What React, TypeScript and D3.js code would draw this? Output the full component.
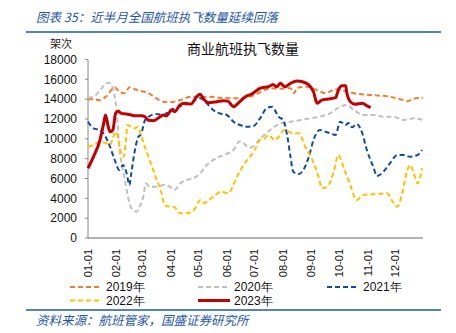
import React from "react";
import * as d3 from "d3";

const W = 456;
const H = 333;

const yTicks = [0, 2000, 4000, 6000, 8000, 10000, 12000, 14000, 16000, 18000];
const xTickLabels = ["01-01", "02-01", "03-01", "04-01", "05-01", "06-01", "07-01", "08-01", "09-01", "10-01", "11-01", "12-01"];
const seriesNames = ["2019年", "2020年", "2021年", "2022年", "2023年"];
const seriesColors = ["#ED7D31", "#BFBFBF", "#0F4C9E", "#FFC000", "#C00000"];

const s2019: [string, number][] = [
  ["01-01", 14000], ["01-07", 14000], ["01-14", 13900], ["01-21", 14300], ["01-30", 15200], ["02-04", 14750],
  ["02-10", 14600], ["02-15", 15200], ["02-21", 15000], ["02-26", 14850], ["03-07", 14650], ["03-16", 14100],
  ["03-24", 13750], ["03-31", 13700], ["04-11", 13900], ["04-18", 14150], ["04-25", 14250], ["05-03", 14200],
  ["05-13", 14250], ["05-24", 14150], ["06-04", 14100], ["06-15", 14100], ["06-26", 14250], ["07-07", 14700],
  ["07-18", 15100], ["07-29", 15050], ["08-09", 15100], ["08-13", 14600], ["08-16", 15150], ["08-27", 15250],
  ["09-07", 14900], ["09-16", 14600], ["09-27", 15000], ["10-04", 14900], ["10-17", 14600], ["11-07", 14400],
  ["11-25", 14250], ["12-10", 13900], ["12-14", 13800], ["12-21", 14050], ["12-31", 14150],
];

const s2020: [string, number][] = [
  ["01-01", 14150], ["01-07", 14250], ["01-14", 14900], ["01-21", 15600], ["01-25", 15650], ["01-28", 15100],
  ["02-01", 12900], ["02-04", 9200], ["02-08", 6850], ["02-12", 4840], ["02-15", 3500], ["02-19", 2820],
  ["02-23", 2650], ["02-26", 3160], ["03-02", 4160], ["03-05", 5500], ["03-09", 5170], ["03-16", 5170],
  ["03-24", 5340], ["03-31", 5170], ["04-05", 4840], ["04-11", 5500], ["04-18", 5850], ["04-25", 6020],
  ["05-03", 6520], ["05-10", 7360], ["05-17", 7870], ["05-28", 8370], ["06-08", 8870], ["06-15", 9750],
  ["06-26", 9100], ["07-07", 10000], ["07-18", 10890], ["07-29", 11560], ["08-09", 11730], ["08-20", 11900],
  ["08-31", 12070], ["09-10", 12230], ["09-21", 12570], ["10-02", 13240], ["10-09", 13400], ["10-17", 12900],
  ["10-27", 12400], ["11-07", 12400], ["11-18", 12230], ["11-29", 12230], ["12-10", 11900], ["12-21", 12070],
  ["12-31", 11900],
];

const s2021: [string, number][] = [
  ["01-01", 11730], ["01-07", 11060], ["01-14", 10890], ["01-19", 10390], ["01-25", 9200], ["01-30", 7870],
  ["02-04", 6860], ["02-08", 7360], ["02-12", 6520], ["02-15", 5340], ["02-17", 6520], ["02-21", 8870],
  ["02-24", 10050], ["02-28", 10560], ["03-04", 11900], ["03-09", 12300], ["03-16", 12500], ["03-24", 12400],
  ["03-31", 12900], ["04-07", 13080], ["04-14", 13410], ["04-22", 13580], ["04-29", 13990], ["05-03", 14090],
  ["05-10", 13580], ["05-17", 12900], ["05-24", 12570], ["06-01", 12400], ["06-08", 11730], ["06-15", 11390],
  ["06-22", 11220], ["06-30", 11300], ["07-07", 12070], ["07-14", 13080], ["07-20", 13240], ["07-23", 12900],
  ["07-27", 12230], ["08-01", 11900], ["08-05", 10560], ["08-09", 8200], ["08-12", 6690], ["08-18", 6450],
  ["08-23", 6860], ["08-29", 8200], ["09-03", 9880], ["09-10", 10890], ["09-16", 10720], ["09-21", 10560],
  ["09-27", 10390], ["10-02", 11730], ["10-08", 11390], ["10-11", 11600], ["10-15", 11160], ["10-20", 11500],
  ["10-26", 10560], ["10-31", 8870], ["11-07", 7190], ["11-11", 6250], ["11-18", 6690], ["11-25", 7530],
  ["12-03", 8370], ["12-10", 8370], ["12-17", 8200], ["12-25", 8370], ["12-30", 8870],
];

const s2022: [string, number][] = [
  ["01-01", 9200], ["01-07", 9380], ["01-14", 9710], ["01-21", 9550], ["01-25", 9380], ["01-28", 10050],
  ["01-31", 10720], ["02-03", 9880], ["02-06", 8540], ["02-09", 8200], ["02-11", 9710], ["02-13", 11390],
  ["02-17", 11220], ["02-21", 11060], ["02-24", 11220], ["02-28", 10220], ["03-05", 8870], ["03-11", 7360],
  ["03-16", 6020], ["03-22", 4510], ["03-25", 3330], ["03-31", 3160], ["04-05", 3100], ["04-11", 2500],
  ["04-18", 2500], ["04-25", 2700], ["05-03", 3800], ["05-06", 3500], ["05-17", 4160], ["05-26", 4670],
  ["06-02", 4510], ["06-12", 6200], ["06-19", 7360], ["06-26", 8200], ["07-01", 8870], ["07-07", 9880],
  ["07-12", 10050], ["07-16", 10390], ["07-23", 9880], ["08-03", 10890], ["08-11", 10560], ["08-18", 10560],
  ["08-25", 9200], ["09-01", 8040], ["09-09", 6020], ["09-12", 5010], ["09-18", 5170], ["09-25", 6690],
  ["09-30", 8370], ["10-06", 7030], ["10-13", 5340], ["10-20", 3830], ["10-27", 4340], ["11-07", 4410],
  ["11-22", 4510], ["11-27", 3830], ["12-03", 3160], ["12-08", 4340], ["12-14", 6860], ["12-17", 7360],
  ["12-21", 6520], ["12-25", 5500], ["12-30", 7030],
];

const s2023: [string, number][] = [
  ["01-01", 7030], ["01-07", 8200], ["01-14", 9880], ["01-18", 11560], ["01-20", 12400], ["01-23", 11220],
  ["01-25", 10720], ["01-28", 10890], ["01-31", 12570], ["02-03", 12800], ["02-06", 12570], ["02-12", 12500],
  ["02-17", 12400], ["02-23", 12330], ["02-28", 12330], ["03-04", 12230], ["03-07", 11900], ["03-13", 11830],
  ["03-18", 12070], ["03-24", 12400], ["03-27", 12300], ["04-02", 12900], ["04-05", 12740], ["04-11", 13410],
  ["04-16", 13580], ["04-23", 13510], ["04-29", 14250], ["05-03", 14490], ["05-06", 14090], ["05-12", 13640],
  ["05-21", 13750], ["05-28", 13850], ["06-02", 13800], ["06-08", 13240], ["06-13", 13580], ["06-21", 14250],
  ["06-28", 14520], ["07-07", 15100], ["07-09", 15150], ["07-16", 15250], ["07-21", 15490], ["07-25", 15250],
  ["07-29", 15600], ["08-03", 15250], ["08-09", 15600], ["08-16", 15830], ["08-22", 15760], ["08-29", 15430],
  ["09-03", 14750], ["09-07", 13580], ["09-12", 13910], ["09-19", 14020], ["09-27", 14150], ["09-30", 14920],
  ["10-04", 15350], ["10-08", 15350], ["10-09", 14750], ["10-13", 13750], ["10-18", 13480], ["10-26", 13580],
  ["10-31", 13340], ["11-04", 13140],
];

const allSeries = [s2019, s2020, s2021, s2022, s2023];

const parse = d3.timeParse("%Y-%m-%d");
const toDate = (s: string) => parse("2023-" + s) as Date;

const CJK = "'Noto Sans CJK SC', sans-serif";
const NUM = "'Liberation Sans', Arial, sans-serif";
const BLUE = "#1F57A4";

export default function App() {
  const left = 88, right = 423, top = 59.5, bottom = 238;
  const x = d3.scaleTime().domain([toDate("01-01"), toDate("12-31")]).range([left, right]);
  const y = d3.scaleLinear().domain([0, 18000]).range([bottom, top]);
  const line = d3
    .line<[string, number]>()
    .x((d) => x(toDate(d[0])))
    .y((d) => y(d[1]))
    .curve(d3.curveMonotoneX);

  const legendPos = [
    [70, 287], [198, 287], [327, 287], [70, 300.5], [198, 300.5],
  ];

  return (
    <svg width={W} height={H} style={{ position: "absolute", left: 0, top: 0, background: "#fff" }}>
      <text x={36} y={22} fill={BLUE} fontFamily={CJK} fontSize={12.5} fontStyle="italic">
        图表 35：近半月全国航班执飞数量延续回落
      </text>
      <line x1={26} x2={441} y1={32} y2={32} stroke={BLUE} strokeWidth={1.5} />

      <text x={61} y={48} textAnchor="middle" fontFamily={CJK} fontSize={11} fill="#222">架次</text>
      <text x={243} y={54} textAnchor="middle" fontFamily={CJK} fontSize={14} fill="#111">商业航班执飞数量</text>

      {/* y axis */}
      <line x1={left} x2={left} y1={top} y2={bottom} stroke="#888" strokeWidth={1} />
      {yTicks.map((t) => (
        <g key={t}>
          <line x1={left - 3} x2={left} y1={y(t)} y2={y(t)} stroke="#888" />
          <text x={77} y={y(t)} dy="0.35em" textAnchor="end" fontFamily={NUM} fontSize={12} fill="#111">
            {t}
          </text>
        </g>
      ))}

      {/* x axis */}
      <line x1={left} x2={right} y1={bottom} y2={bottom} stroke="#666" strokeWidth={1} />
      {xTickLabels.map((t) => (
        <text
          key={t}
          transform={`translate(${x(toDate(t))},${249}) rotate(-90)`}
          dy="0.35em"
          textAnchor="end"
          fontFamily={NUM}
          fontSize={11}
          fill="#111"
        >
          {t}
        </text>
      ))}

      {allSeries.map((s, i) => (
        <path
          key={i}
          d={line(s) || ""}
          fill="none"
          stroke={seriesColors[i]}
          strokeWidth={i === 4 ? 3 : 2}
          strokeDasharray={i === 4 ? undefined : "5,3"}
          strokeLinejoin="round"
        />
      ))}

      {seriesNames.map((n, i) => (
        <g key={n}>
          <line
            x1={legendPos[i][0]}
            x2={legendPos[i][0] + 32}
            y1={legendPos[i][1]}
            y2={legendPos[i][1]}
            stroke={seriesColors[i]}
            strokeWidth={i === 4 ? 3 : 2}
            strokeDasharray={i === 4 ? undefined : "5,3"}
          />
          <text x={legendPos[i][0] + 36} y={legendPos[i][1]} dy="0.35em" fontFamily={NUM} fontSize={12} fill="#111">
            {n}
          </text>
        </g>
      ))}

      <line x1={26} x2={441} y1={310} y2={310} stroke={BLUE} strokeWidth={1.5} />
      <text x={36} y={325} fill={BLUE} fontFamily={CJK} fontSize={12.5} fontStyle="italic">
        资料来源：航班管家，国盛证券研究所
      </text>
    </svg>
  );
}
